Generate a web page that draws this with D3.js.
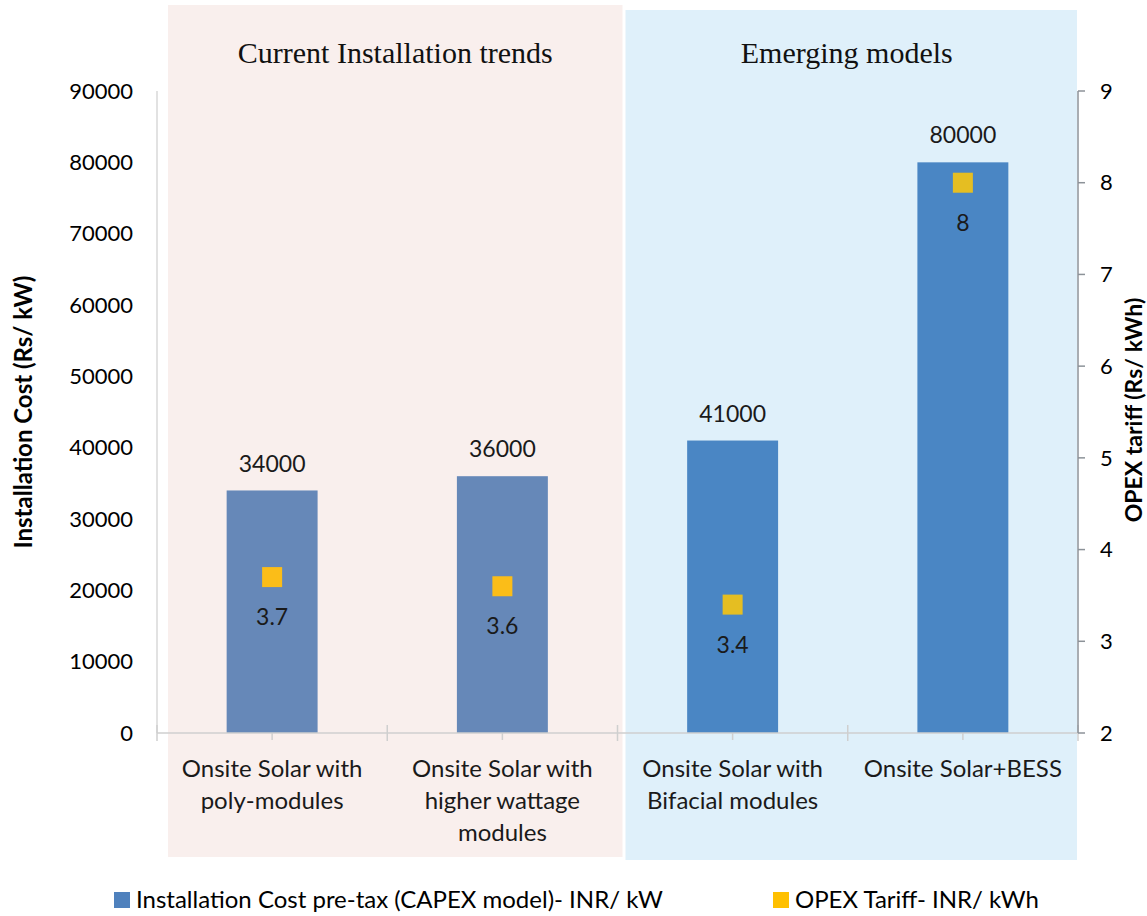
<!DOCTYPE html>
<html>
<head>
<meta charset="utf-8">
<script src="https://cdn.jsdelivr.net/npm/d3@7"></script>
<style>
  body { margin: 0; background: #fff; }
  svg text { font-family: Lato, "Open Sans", sans-serif; }
</style>
</head>
<body>
<div id="chart"></div>
<script>
var categories = [
  ["Onsite Solar with", "poly-modules"],
  ["Onsite Solar with", "higher wattage", "modules"],
  ["Onsite Solar with", "Bifacial modules"],
  ["Onsite Solar+BESS"]
];
var installationCost = [34000, 36000, 41000, 80000];
var opexTariff = [3.7, 3.6, 3.4, 8];
var groups = ["Current Installation trends", "Emerging models"];
var groupSpans = [[0, 1], [2, 3]];
var leftTicks = [0, 10000, 20000, 30000, 40000, 50000, 60000, 70000, 80000, 90000];
var rightTicks = [2, 3, 4, 5, 6, 7, 8, 9];
var legendLabels = ["Installation Cost pre-tax (CAPEX model)- INR/ kW", "OPEX Tariff- INR/ kWh"];

var width = 1147,
    height = 916;
var plot = { left: 157, right: 1078, top: 91, bottom: 733 };

var svg = d3.select("#chart").append("svg")
  .attr("width", width)
  .attr("height", height);

var x = d3.scaleBand()
  .domain(d3.range(categories.length))
  .range([plot.left, plot.right])
  .paddingInner(0)
  .paddingOuter(0);

var yLeft = d3.scaleLinear()
  .domain([0, 90000])
  .range([plot.bottom, plot.top]);

var yRight = d3.scaleLinear()
  .domain([2, 9])
  .range([plot.bottom, plot.top]);

// group shading
var groupStyle = [
  { fill: "#f9efed", bar: "#6688b8", marker: "#fbbd18", top: 5, bottom: 857, padL: 11, padR: -5, titleShift: 8 },
  { fill: "#dff0fa", bar: "#4a86c4", marker: "#e5be22", top: 10, bottom: 860, padL: 8, padR: 1, titleShift: -1 }
];

groupSpans.forEach(function(span, i) {
  var s = groupStyle[i];
  var x0 = x(span[0]) + s.padL,
      x1 = x(span[1]) + x.bandwidth() - s.padR;
  svg.append("rect")
    .attr("x", x0)
    .attr("y", s.top)
    .attr("width", x1 - x0)
    .attr("height", s.bottom - s.top)
    .attr("fill", s.fill);
  svg.append("text")
    .attr("x", (x(span[0]) + x(span[1]) + x.bandwidth()) / 2 + s.titleShift)
    .attr("y", 63)
    .attr("text-anchor", "middle")
    .style("font-family", "'Liberation Serif', 'DejaVu Serif', serif")
    .style("font-size", "30px")
    .attr("fill", "#111")
    .text(groups[i]);
});

function groupOf(i) {
  return i <= groupSpans[0][1] ? 0 : 1;
}

// left axis line
svg.append("line")
  .attr("x1", plot.left).attr("x2", plot.left)
  .attr("y1", plot.top).attr("y2", plot.bottom)
  .attr("stroke", "#d9d9d9").attr("stroke-width", 1.5);

svg.selectAll(".left-tick")
  .data(leftTicks)
  .enter().append("text")
    .attr("class", "left-tick")
    .attr("x", 133)
    .attr("y", function(d) { return yLeft(d); })
    .attr("dy", "0.35em")
    .attr("text-anchor", "end")
    .style("font-size", "22px")
    .attr("fill", "#000")
    .text(function(d) { return d; });

// bars
var barWidth = x.bandwidth() * 0.395;
svg.selectAll(".bar")
  .data(installationCost)
  .enter().append("rect")
    .attr("class", "bar")
    .attr("x", function(d, i) { return x(i) + x.bandwidth() / 2 - barWidth / 2; })
    .attr("y", function(d) { return yLeft(d); })
    .attr("width", barWidth)
    .attr("height", function(d) { return plot.bottom - yLeft(d); })
    .attr("fill", function(d, i) { return groupStyle[groupOf(i)].bar; });

svg.selectAll(".bar-label")
  .data(installationCost)
  .enter().append("text")
    .attr("class", "bar-label")
    .attr("x", function(d, i) { return x(i) + x.bandwidth() / 2; })
    .attr("y", function(d) { return yLeft(d) - 27; })
    .attr("dy", "0.35em")
    .attr("text-anchor", "middle")
    .style("font-size", "23px")
    .attr("fill", "#1a1a1a")
    .text(function(d) { return d; });

// bottom axis
svg.append("line")
  .attr("x1", plot.left).attr("x2", plot.right)
  .attr("y1", plot.bottom).attr("y2", plot.bottom)
  .attr("stroke", "#cfcfcf").attr("stroke-width", 1.5);

svg.selectAll(".cat-bound")
  .data(d3.range(categories.length + 1))
  .enter().append("line")
    .attr("class", "cat-bound")
    .attr("x1", function(i) { return plot.left + i * x.bandwidth(); })
    .attr("x2", function(i) { return plot.left + i * x.bandwidth(); })
    .attr("y1", plot.bottom - 8)
    .attr("y2", plot.bottom + 8)
    .attr("stroke", "#cfcfcf").attr("stroke-width", 1.5);

svg.selectAll(".cat-mid")
  .data(categories)
  .enter().append("line")
    .attr("class", "cat-mid")
    .attr("x1", function(d, i) { return x(i) + x.bandwidth() / 2; })
    .attr("x2", function(d, i) { return x(i) + x.bandwidth() / 2; })
    .attr("y1", plot.bottom)
    .attr("y2", plot.bottom + 7)
    .attr("stroke", "#cfcfcf").attr("stroke-width", 1.5);

var catLabels = svg.selectAll(".cat-label")
  .data(categories)
  .enter().append("text")
    .attr("class", "cat-label")
    .attr("text-anchor", "middle")
    .style("font-size", "24px")
    .attr("fill", "#1a1a1a");

catLabels.selectAll("tspan")
  .data(function(d, i) { return d.map(function(line) { return { line: line, i: i }; }); })
  .enter().append("tspan")
    .attr("x", function(d) { return x(d.i) + x.bandwidth() / 2; })
    .attr("y", function(d, j) { return 777 + j * 32; })
    .text(function(d) { return d.line; });

// right axis
svg.append("line")
  .attr("x1", plot.right).attr("x2", plot.right)
  .attr("y1", plot.top).attr("y2", plot.bottom)
  .attr("stroke", "#8c9298").attr("stroke-width", 1.5);

svg.selectAll(".right-tickmark")
  .data(rightTicks)
  .enter().append("line")
    .attr("class", "right-tickmark")
    .attr("x1", plot.right)
    .attr("x2", plot.right + 7)
    .attr("y1", function(d) { return yRight(d); })
    .attr("y2", function(d) { return yRight(d); })
    .attr("stroke", "#8c9298").attr("stroke-width", 1.5);

svg.selectAll(".right-tick")
  .data(rightTicks)
  .enter().append("text")
    .attr("class", "right-tick")
    .attr("x", 1100)
    .attr("y", function(d) { return yRight(d); })
    .attr("dy", "0.35em")
    .style("font-size", "22px")
    .attr("fill", "#000")
    .text(function(d) { return d; });

// markers
var markerSize = 20;
svg.selectAll(".marker")
  .data(opexTariff)
  .enter().append("rect")
    .attr("class", "marker")
    .attr("x", function(d, i) { return x(i) + x.bandwidth() / 2 - markerSize / 2; })
    .attr("y", function(d) { return yRight(d) - markerSize / 2; })
    .attr("width", markerSize)
    .attr("height", markerSize)
    .attr("fill", function(d, i) { return groupStyle[groupOf(i)].marker; });

svg.selectAll(".marker-label")
  .data(opexTariff)
  .enter().append("text")
    .attr("class", "marker-label")
    .attr("x", function(d, i) { return x(i) + x.bandwidth() / 2; })
    .attr("y", function(d) { return yRight(d) + 40; })
    .attr("dy", "0.35em")
    .attr("text-anchor", "middle")
    .style("font-size", "23px")
    .attr("fill", "#1a1a1a")
    .text(function(d) { return d; });

// axis titles
svg.append("text")
  .attr("transform", "translate(32,412) rotate(-90)")
  .attr("text-anchor", "middle")
  .style("font-size", "24px")
  .style("font-weight", "bold")
  .attr("fill", "#000")
  .text("Installation Cost (Rs/ kW)");

svg.append("text")
  .attr("transform", "translate(1142,410) rotate(-90)")
  .attr("text-anchor", "middle")
  .style("font-size", "23px")
  .style("font-weight", "bold")
  .attr("fill", "#000")
  .text("OPEX tariff (Rs/ kWh)");

// legend
var legendItems = [
  { label: legendLabels[0], color: "#4f81bd", x: 114 },
  { label: legendLabels[1], color: "#ffc000", x: 773 }
];
var legend = svg.selectAll(".legend")
  .data(legendItems)
  .enter().append("g")
    .attr("class", "legend")
    .attr("transform", function(d) { return "translate(" + d.x + ",900)"; });

legend.append("rect")
  .attr("x", 0).attr("y", -8)
  .attr("width", 16).attr("height", 16)
  .attr("fill", function(d) { return d.color; });

legend.append("text")
  .attr("x", 22)
  .attr("dy", "0.35em")
  .style("font-size", "24px")
  .attr("fill", "#000")
  .text(function(d) { return d.label; });
</script>
</body>
</html>
